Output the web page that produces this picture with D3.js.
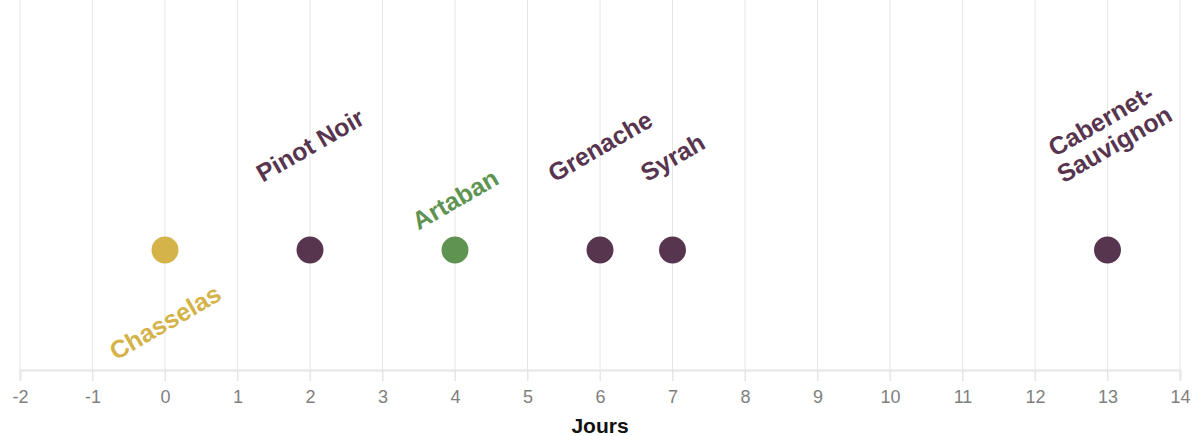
<!DOCTYPE html>
<html lang="fr">
<head>
<meta charset="UTF-8">
<title>Cépages</title>
<script src="https://d3js.org/d3.v7.min.js"></script>
<style>
    body { margin: 0; font-family: "Liberation Sans", Arial, sans-serif; background: #fff; }
    .grid line { stroke: #e6e6e6; }
    .axis text { fill: #808080; font-size: 18px; }
</style>
</head>
<body>
<div id="chart"></div>
<script>
// données
var cepages = ["Chasselas", "Pinot Noir", "Artaban", "Grenache", "Syrah", "Cabernet-Sauvignon"];
var jours = [0, 2, 4, 6, 7, 13];
var groupes = ["blanc", "rouge", "resistant", "rouge", "rouge", "rouge"];
var ticks = [-2, -1, 0, 1, 2, 3, 4, 5, 6, 7, 8, 9, 10, 11, 12, 13, 14];

// décalage vertical des étiquettes (px par rapport au point)
var labelDy = [72, -105, -51, -104, -93, -118];

var couleurs = { blanc: "#d4b349", rouge: "#58354f", resistant: "#5e9351" };

var width = 1194, height = 436,
    margin = {top: 0, right: 14, bottom: 66, left: 20};

var svg = d3.select("#chart").append("svg")
    .attr("width", width)
    .attr("height", height);

var x = d3.scaleLinear()
    .domain([-2, 14])
    .range([margin.left, width - margin.right]);

var axisY = height - margin.bottom;
var dotY = 250;

// grille verticale
svg.append("g").attr("class", "grid")
    .selectAll("line")
    .data(ticks)
    .enter().append("line")
    .attr("x1", function(d) { return x(d); })
    .attr("x2", function(d) { return x(d); })
    .attr("y1", margin.top)
    .attr("y2", axisY + 11);

// axe
var axis = svg.append("g")
    .attr("class", "axis")
    .attr("transform", "translate(0," + axisY + ")")
    .call(d3.axisBottom(x).tickValues(ticks).tickFormat(function(d) { return String(d); }).tickSize(11).tickPadding(9));
axis.select(".domain").attr("stroke", "#e6e6e6").attr("stroke-width", 2);
axis.selectAll(".tick line").attr("stroke", "#e6e6e6");
axis.selectAll("text").style("font-family", "Liberation Sans, Arial, sans-serif");

svg.append("text")
    .attr("x", (x.range()[0] + x.range()[1]) / 2)
    .attr("y", 433)
    .attr("text-anchor", "middle")
    .style("font-weight", "bold")
    .style("font-size", "21px")
    .attr("fill", "#111")
    .text("Jours");

var data = cepages.map(function(c, i) {
    return { nom: c, jour: jours[i], groupe: groupes[i], dy: labelDy[i] };
});

// points
svg.append("g")
    .selectAll("circle")
    .data(data)
    .enter().append("circle")
    .attr("cx", function(d) { return x(d.jour); })
    .attr("cy", dotY)
    .attr("r", 13.5)
    .attr("fill", function(d) { return couleurs[d.groupe]; });

// étiquettes
var lab = svg.append("g")
    .selectAll("text")
    .data(data)
    .enter().append("text")
    .attr("transform", function(d) { return "translate(" + x(d.jour) + "," + (dotY + d.dy) + ") rotate(-30)"; })
    .attr("text-anchor", "middle")
    .attr("fill", function(d) { return couleurs[d.groupe]; })
    .style("font-weight", "bold")
    .style("font-size", "25px");

lab.each(function(d) {
    var parts = d.nom.indexOf("-") > 0 ? [d.nom.split("-")[0] + "-", d.nom.split("-")[1]] : [d.nom];
    var t = d3.select(this);
    parts.forEach(function(p, i) {
        t.append("tspan")
            .attr("x", 0)
            .attr("y", (i - (parts.length - 1) / 2) * 27 + 9)
            .text(p);
    });
});
</script>
</body>
</html>
